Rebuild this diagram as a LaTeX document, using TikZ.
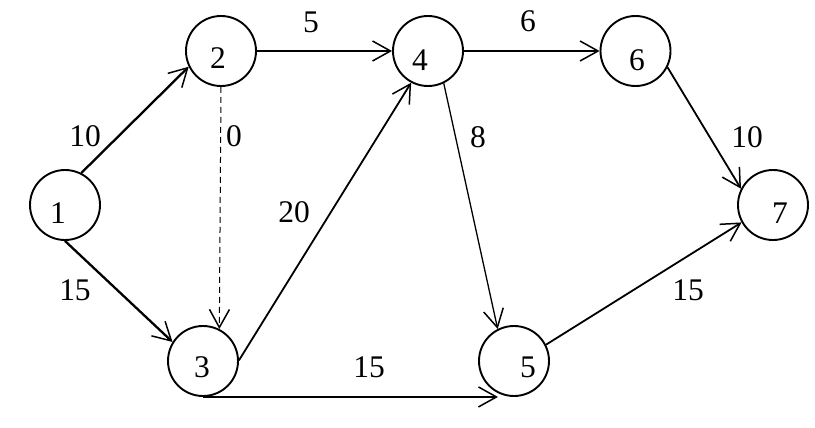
\documentclass[tikz,border=0pt]{standalone}
\usepackage{fontspec}
\setmainfont{Liberation Serif}
\usetikzlibrary{arrows.meta}
\begin{document}
\begin{tikzpicture}[x=1pt,y=-1pt,
  vtx/.style={circle,draw,line width=1.9pt,minimum size=70pt,inner sep=0pt},
  num/.style={inner sep=0pt,font=\fontsize{31.5}{31.5}\selectfont},
  arr/.style={-{Straight Barb[length=18pt,width=20pt,line width=1.5pt]}},
  thk/.style={arr,line width=2.3pt},
  med/.style={arr,line width=1.8pt},
  thn/.style={arr,line width=1.3pt},
  dsh/.style={arr,line width=1pt,dash pattern=on 6pt off 4pt}]
\useasboundingbox[fill=white] (0,0) rectangle (815,428);
% vertices
\node[vtx] (n1) at (65,205) {};
\node[vtx] (n2) at (221,51) {};
\node[vtx] (n4) at (428,51) {};
\node[vtx] (n6) at (635.5,51) {};
\node[vtx] (n7) at (773,205) {};
\node[vtx] (n3) at (203,361) {};
\node[vtx] (n5) at (514,361) {};
% vertex numbers
\node[num] (t1) at (58,213) {1};
\node[num] (t2) at (218,58) {2};
\node[num] (t4) at (420,60) {4};
\node[num] (t6) at (637,60) {6};
\node[num] (t7) at (780,213) {7};
\node[num] (t3) at (202,367) {3};
\node[num] (t5) at (528,367) {5};
% edges
\draw[thk] (n1.63.4) -- (n2.206);
\draw[thk] (n1.270) -- (n3.148.8);
\draw[thk] (n2.east) -- (n4.west);
\draw[dsh] (n2.270) -- (n3.63.4);
\draw[med] (n3.1.6) -- (n4.242);
\draw[thk] (n4.east) -- (n6.west);
\draw[thn] (n4.296.6) -- (n5.117.8);
\draw[med] (n6.333) -- (n7.153.4);
\draw[thk] (n3.south) -- ([xshift=-16pt]n5.south);
\draw[med] (n5.27.2) -- (n7.209.4);
% edge labels
\node[num] (l12) at (85,136) {10};
\node[num] (l13) at (75,290) {15};
\node[num] (l24) at (311,22) {5};
\node[num] (l23) at (234,136) {0};
\node[num] (l34) at (294,212) {20};
\node[num] (l46) at (528,21) {6};
\node[num] (l45) at (478,137) {8};
\node[num] (l67) at (747,137) {10};
\node[num] (l35) at (369,367) {15};
\node[num] (l57) at (688,290) {15};
\end{tikzpicture}
\end{document}
